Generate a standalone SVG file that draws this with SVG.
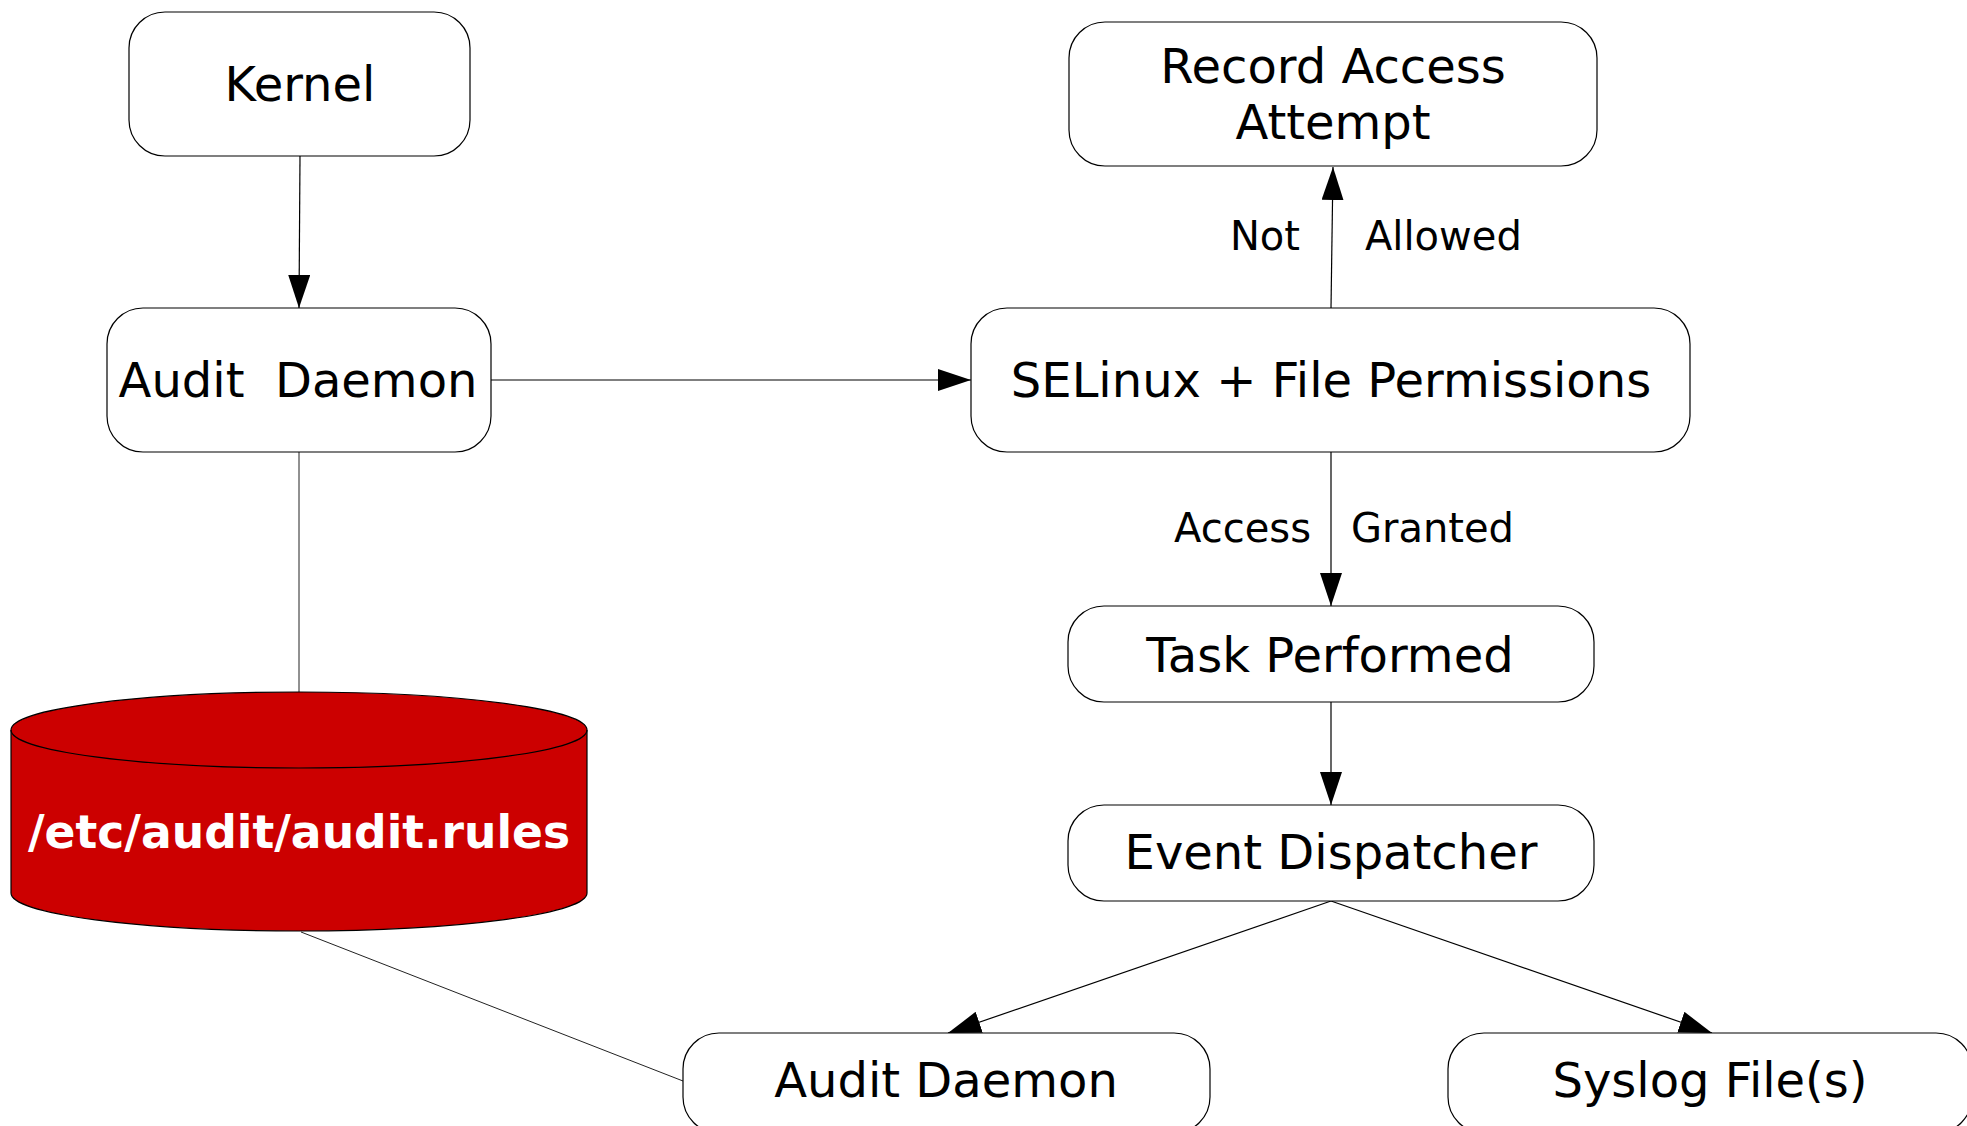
<svg xmlns="http://www.w3.org/2000/svg" width="1967" height="1126" viewBox="0 0 1967 1126">
<style>
.node rect{fill:#fff;stroke:#000;stroke-width:1.2}
.t{font-family:"DejaVu Sans",sans-serif;font-size:48px;fill:#000;text-anchor:middle}
.lbl{font-family:"DejaVu Sans",sans-serif;font-size:40px;fill:#000}
.edge{stroke:#000;stroke-width:1.2;fill:none}
.plain{stroke:#222;stroke-width:1;fill:none}
</style>
<defs>
<marker id="arr" markerUnits="userSpaceOnUse" markerWidth="34" markerHeight="24" refX="33" refY="11" orient="auto">
<path d="M0,0 L33,11 L0,22 Z" fill="#000"/>
</marker>
</defs>
<rect width="1967" height="1126" fill="#fff"/>
<g id="connectors">
<line class="edge" x1="300" y1="156" x2="299" y2="308" marker-end="url(#arr)"/>
<line class="edge" x1="491" y1="380" x2="971" y2="380" marker-end="url(#arr)"/>
<line class="edge" x1="1331" y1="308" x2="1333" y2="167" marker-end="url(#arr)"/>
<line class="edge" x1="1331" y1="452" x2="1331" y2="606" marker-end="url(#arr)"/>
<line class="edge" x1="1331" y1="702" x2="1331" y2="805" marker-end="url(#arr)"/>
<line class="edge" x1="1331" y1="901" x2="948" y2="1033" marker-end="url(#arr)"/>
<line class="edge" x1="1331" y1="901" x2="1712" y2="1033" marker-end="url(#arr)"/>
<line class="plain" x1="299" y1="452" x2="299" y2="692"/>
<line class="plain" x1="301" y1="932" x2="683" y2="1081"/>
<text class="lbl" x="1300" y="250" text-anchor="end">Not</text>
<text class="lbl" x="1365" y="250">Allowed</text>
<text class="lbl" x="1311" y="542" text-anchor="end">Access</text>
<text class="lbl" x="1351" y="542">Granted</text>
</g>
<g id="kernel" class="node">
<rect x="129" y="12" width="341" height="144" rx="36" ry="36"/>
<text class="t" x="300" y="101">Kernel</text>
</g>
<g id="auditd1" class="node">
<rect x="107" y="308" width="384" height="144" rx="36" ry="36"/>
<text class="t" x="298" y="397" style="white-space:pre">Audit  Daemon</text>
</g>
<g id="selinux" class="node">
<rect x="971" y="308" width="719" height="144" rx="36" ry="36"/>
<text class="t" x="1331" y="397">SELinux + File Permissions</text>
</g>
<g id="record" class="node">
<rect x="1069" y="22" width="528" height="144" rx="36" ry="36"/>
<text class="t" x="1333" y="83">Record Access</text>
<text class="t" x="1333" y="139">Attempt</text>
</g>
<g id="task" class="node">
<rect x="1068" y="606" width="526" height="96" rx="36" ry="36"/>
<text class="t" x="1330" y="672">Task Performed</text>
</g>
<g id="event" class="node">
<rect x="1068" y="805" width="526" height="96" rx="36" ry="36"/>
<text class="t" x="1331" y="869">Event Dispatcher</text>
</g>
<g id="auditd2" class="node">
<rect x="683" y="1033" width="527" height="100" rx="36" ry="36"/>
<text class="t" x="946" y="1097">Audit Daemon</text>
</g>
<g id="syslog" class="node">
<rect x="1448" y="1033" width="524" height="100" rx="36" ry="36"/>
<text class="t" x="1710" y="1097">Syslog File(s)</text>
</g>
<g id="rules">
<path d="M11,730 L11,893 A288,38 0 0 0 587,893 L587,730 A288,38 0 0 0 11,730 Z" fill="#cc0000" stroke="#000" stroke-width="1.2"/>
<path d="M11,730 A288,38 0 0 0 587,730" fill="none" stroke="#000" stroke-width="1.2"/>
<text x="299" y="848" text-anchor="middle" style="font-family:'DejaVu Sans',sans-serif;font-size:45.6px;font-weight:bold;fill:#fff">/etc/audit/audit.rules</text>
</g>
</svg>
